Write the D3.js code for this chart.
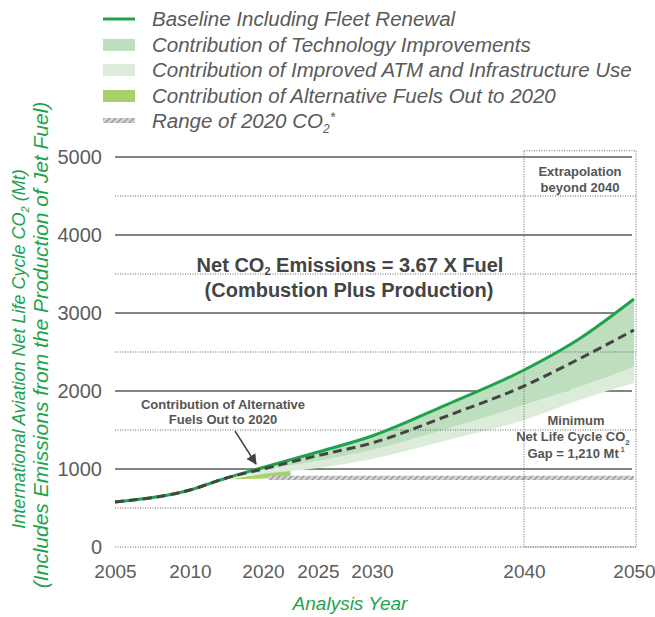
<!DOCTYPE html>
<html>
<head>
<meta charset="utf-8">
<script src="https://cdn.jsdelivr.net/npm/d3@7"></script>
<style>
  body { margin: 0; background: #fff; }
  text { font-family: "Liberation Sans", Arial, sans-serif; }
</style>
</head>
<body>
<div id="chart"></div>
<script>
// values (Mt CO2)
var years      = [2005, 2010, 2015, 2020, 2025, 2030, 2035, 2040, 2045, 2050];
var baseline   = [577, 731, 885, 1019, 1218, 1423, 1833, 2269, 2667, 3180];
var dashed     = [577, 731, 885, 1000, 1173, 1333, 1685, 2064, 2410, 2782];
var techBottom = [577, 731, 885, 987, 1103, 1244, 1519, 1820, 2051, 2308];
var atmBottom  = [577, 731, 885, 936, 1013, 1128, 1372, 1628, 1885, 2103];

var altYears  = [2015.5, 2020, 2022.5];
var altTop    = [870, 936, 974];
var altBottom = [870, 878, 897];

var rangeYears = [2020.5, 2050];
var rangeLow   = [860, 860];
var rangeHigh  = [915, 915];

var tickYears  = [2005, 2010, 2020, 2025, 2030, 2040, 2050];
var yTicks     = [0, 1000, 2000, 3000, 4000, 5000];
var yMinor     = [0, 500, 1500, 2500, 3500, 4500];

var legendLabels = ["Baseline Including Fleet Renewal",
                    "Contribution of Technology Improvements",
                    "Contribution of Improved ATM and Infrastructure Use",
                    "Contribution of Alternative Fuels Out to 2020",
                    "Range of 2020 CO"];

var green = "#1da34c", techCol = "#bddfbe", atmCol = "#dcecdb", altCol = "#a8d06c";

var svg = d3.select("#chart").append("svg")
  .attr("width", 655).attr("height", 617);

var defs = svg.append("defs");
var pat = defs.append("pattern").attr("id", "hatch")
  .attr("patternUnits", "userSpaceOnUse").attr("width", 6).attr("height", 6);
pat.append("rect").attr("width", 6).attr("height", 6).attr("fill", "#d4d4d4");
pat.append("path").attr("d", "M-1,7 L7,-1 M-4,4 L4,-4 M2,10 L10,2")
  .attr("stroke", "#999").attr("stroke-width", 1.4);

defs.append("marker").attr("id", "arrow")
  .attr("viewBox", "0 0 10 10").attr("refX", 9).attr("refY", 5)
  .attr("markerWidth", 7).attr("markerHeight", 7).attr("orient", "auto")
  .append("path").attr("d", "M0,0 L10,5 L0,10 z").attr("fill", "#444");

// the axis labels in the original are not evenly spaced
var x = d3.scaleLinear()
  .domain(tickYears)
  .range([115, 190, 263, 318, 372, 524, 634]);
var y = d3.scaleLinear().domain([0, 5000]).range([547, 157]);

var g = svg.append("g");

// solid gridlines (under the bands)
g.selectAll(".major").data(yTicks.slice(1)).enter().append("line")
  .attr("class", "major")
  .attr("x1", x(2005)).attr("x2", x(2050) - 2)
  .attr("y1", d => y(d)).attr("y2", d => y(d))
  .attr("stroke", "#5a5a5a").attr("stroke-width", 1.6);

var rows = years.map(function(yr, i){
  return {yr: yr, base: baseline[i], dash: dashed[i], tech: techBottom[i], atm: atmBottom[i]};
});

var band = function(top, bot){
  return d3.area().curve(d3.curveMonotoneX)
    .x(d => x(d.yr)).y0(d => y(d[bot])).y1(d => y(d[top]));
};

g.append("path").datum(rows).attr("d", band("tech", "atm")).attr("fill", atmCol);
g.append("path").datum(rows).attr("d", band("base", "tech")).attr("fill", techCol);

var alt = altYears.map((yr, i) => ({yr: yr, top: altTop[i], bot: altBottom[i]}));
g.append("path").datum(alt).attr("d", band("top", "bot")).attr("fill", altCol);

var rng = rangeYears.map((yr, i) => ({yr: yr, top: rangeHigh[i], bot: rangeLow[i]}));
g.append("path").datum(rng).attr("d", band("top", "bot")).attr("fill", "url(#hatch)");

// dotted gridlines
g.selectAll(".minor").data(yMinor).enter().append("line")
  .attr("class", "minor")
  .attr("x1", x(2005)).attr("x2", x(2050) + 2)
  .attr("y1", d => y(d)).attr("y2", d => y(d))
  .attr("stroke", "#666").attr("stroke-width", 1).attr("stroke-dasharray", "1,1.5");

// extrapolation box
g.append("rect")
  .attr("x", x(2040)).attr("y", y(5080))
  .attr("width", x(2050) + 2 - x(2040)).attr("height", y(0) - y(5080))
  .attr("fill", "none").attr("stroke", "#666").attr("stroke-width", 1)
  .attr("stroke-dasharray", "1,1.5");

var line = key => d3.line().curve(d3.curveMonotoneX).x(d => x(d.yr)).y(d => y(d[key]));

g.append("path").datum(rows).attr("d", line("base"))
  .attr("fill", "none").attr("stroke", green).attr("stroke-width", 3);
g.append("path").datum(rows).attr("d", line("dash"))
  .attr("fill", "none").attr("stroke", "#444").attr("stroke-width", 3)
  .attr("stroke-dasharray", "9,5");

// axes
var xAxis = g.append("g").attr("transform", "translate(0," + y(0) + ")")
  .call(d3.axisBottom(x).tickValues(tickYears).tickFormat(d3.format("d")).tickSize(0).tickPadding(18));
var yAxis = g.append("g").attr("transform", "translate(" + x(2005) + ",0)")
  .call(d3.axisLeft(y).tickValues(yTicks).tickFormat(d3.format("d")).tickSize(0).tickPadding(13));
[xAxis, yAxis].forEach(function(a){
  a.select(".domain").remove();
  a.selectAll("text").attr("fill", "#5c5c5c")
    .attr("font-family", "'Liberation Sans', Arial, sans-serif");
});
xAxis.selectAll("text").attr("font-size", 19);
yAxis.selectAll("text").attr("font-size", 20);

// axis titles
svg.append("text").attr("x", 350).attr("y", 610).attr("text-anchor", "middle")
  .attr("font-size", 19).attr("font-style", "italic").attr("fill", green)
  .text("Analysis Year");

var t1 = svg.append("text").attr("transform", "translate(25,349) rotate(-90)")
  .attr("text-anchor", "middle").attr("font-size", 18).attr("font-style", "italic").attr("fill", green);
t1.append("tspan").text("International Aviation Net Life Cycle CO");
t1.append("tspan").attr("font-size", 11).attr("dy", 4).text("2");
t1.append("tspan").attr("dy", -4).text(" (Mt)");
svg.append("text").attr("transform", "translate(48,345) rotate(-90)")
  .attr("text-anchor", "middle").attr("font-size", 21).attr("font-style", "italic").attr("fill", green)
  .text("(Includes Emissions from the Production of Jet Fuel)");

// annotations
var big = svg.append("g").attr("font-weight", "bold").attr("fill", "#444")
  .attr("font-size", 20).attr("text-anchor", "middle");
var n1 = big.append("text").attr("x", 350).attr("y", 272);
n1.append("tspan").text("Net CO");
n1.append("tspan").attr("font-size", 11).attr("dy", 3).text("2");
n1.append("tspan").attr("dy", -3).text(" Emissions = 3.67 X Fuel");
big.append("text").attr("x", 349).attr("y", 297).text("(Combustion Plus Production)");

var small = svg.append("g").attr("font-weight", "bold").attr("fill", "#555")
  .attr("font-size", 13).attr("text-anchor", "middle");
small.append("text").attr("x", 223).attr("y", 409).text("Contribution of Alternative");
small.append("text").attr("x", 223).attr("y", 424).text("Fuels Out to 2020");
small.append("text").attr("x", 580).attr("y", 176).text("Extrapolation");
small.append("text").attr("x", 580).attr("y", 192).text("beyond 2040");

var gap = svg.append("g").attr("font-weight", "bold").attr("fill", "#555")
  .attr("font-size", 13).attr("text-anchor", "middle");
gap.append("text").attr("x", 576).attr("y", 425).text("Minimum");
var n2 = gap.append("text").attr("x", 573).attr("y", 441);
n2.append("tspan").text("Net Life Cycle CO");
n2.append("tspan").attr("font-size", 8).attr("dy", 4).text("2");
var n3 = gap.append("text").attr("x", 576).attr("y", 458);
n3.append("tspan").text("Gap = 1,210 Mt");
n3.append("tspan").attr("font-size", 7).attr("dy", -6).text(" 1");

svg.append("line")
  .attr("x1", 235).attr("y1", 431).attr("x2", 256).attr("y2", 464)
  .attr("stroke", "#444").attr("stroke-width", 1.5).attr("marker-end", "url(#arrow)");

// legend
var leg = svg.append("g").attr("font-size", 20.5).attr("font-style", "italic").attr("fill", "#5a5a5a");
var rowY = [19, 45, 70, 96, 121];
leg.selectAll("text").data(legendLabels).enter().append("text")
  .attr("x", 152).attr("y", (d, i) => rowY[i] + 7).text(d => d);
leg.select("text:last-child").append("tspan").attr("font-size", 12).attr("dy", 5).text("2");
leg.select("text:last-child").append("tspan").attr("font-size", 14).attr("dy", -11).text("*");

leg.append("line").attr("x1", 103).attr("x2", 135).attr("y1", rowY[0]).attr("y2", rowY[0])
  .attr("stroke", green).attr("stroke-width", 3);
[techCol, atmCol, altCol].forEach(function(c, i){
  leg.append("rect").attr("x", 103).attr("y", rowY[i + 1] - 6).attr("width", 32).attr("height", 12).attr("fill", c);
});
leg.append("rect").attr("x", 103).attr("y", rowY[4] - 3).attr("width", 32).attr("height", 5).attr("fill", "url(#hatch)");
</script>
</body>
</html>
